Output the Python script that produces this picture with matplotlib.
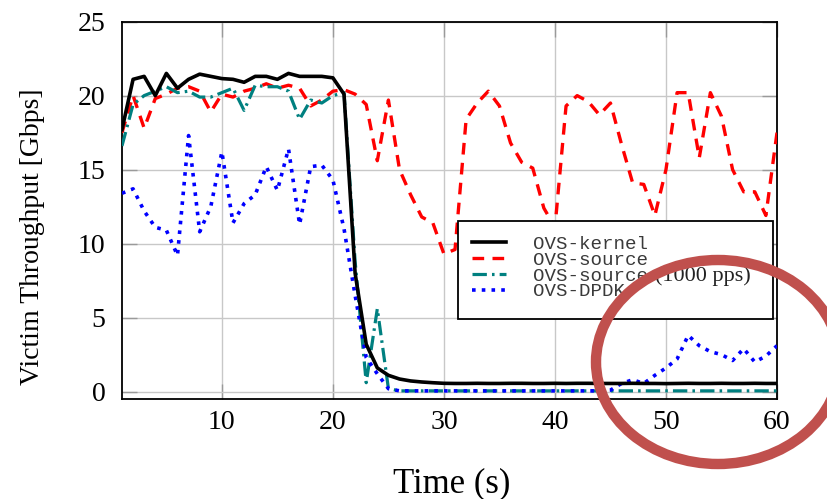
import matplotlib
matplotlib.use("Agg")
import matplotlib.pyplot as plt
from matplotlib.patches import Ellipse, Rectangle

# --- données ---
temps = list(range(1, 61))

kernel = [17.7, 21.1, 21.3, 20.0, 21.5, 20.5, 21.1, 21.45, 21.3, 21.15,
          21.1, 20.9, 21.3, 21.3, 21.1, 21.5, 21.3, 21.3, 21.3, 21.2,
          20.1, 8.0, 3.2, 1.6, 1.1, 0.85, 0.72, 0.65, 0.6, 0.56,
          0.55, 0.55, 0.56, 0.55, 0.55, 0.56, 0.56, 0.55, 0.55, 0.56,
          0.55, 0.56, 0.56, 0.55, 0.55, 0.55, 0.56, 0.55, 0.55, 0.54,
          0.55, 0.56, 0.55, 0.55, 0.56, 0.55, 0.55, 0.56, 0.55, 0.55]

source = [17.5, 20.0, 17.8, 19.8, 20.1, 20.5, 20.6, 20.3, 18.9, 20.1,
          19.9, 20.3, 20.5, 20.8, 20.5, 20.7, 20.5, 19.3, 19.7, 20.3,
          20.4, 20.1, 19.4, 15.6, 19.7, 15.0, 13.3, 11.8, 11.4, 9.3,
          9.6, 18.4, 19.5, 20.3, 19.3, 16.8, 15.5, 15.1, 12.4, 11.1,
          19.3, 20.0, 19.6, 18.7, 19.5, 16.7, 14.1, 14.0, 11.9, 15.0,
          20.2, 20.2, 15.8, 20.2, 18.6, 15.0, 13.5, 13.5, 11.9, 17.5]

source_1000 = [16.6, 19.4, 20.0, 20.3, 20.6, 20.2, 20.3, 19.9, 19.9, 20.2,
               20.5, 19.0, 20.7, 20.6, 20.6, 20.3, 18.4, 19.7, 19.5, 20.0,
               20.2, 8.8, 0.6, 5.6, 0.2, 0.05, 0.05, 0.05, 0.05, 0.05,
               0.05, 0.05, 0.05, 0.05, 0.05, 0.05, 0.05, 0.05, 0.05, 0.05,
               0.05, 0.05, 0.05, 0.05, 0.05, 0.05, 0.05, 0.05, 0.05, 0.05,
               0.05, 0.05, 0.05, 0.05, 0.05, 0.05, 0.05, 0.05, 0.05, 0.05]

dpdk = [13.4, 13.7, 12.2, 11.1, 10.9, 9.2, 17.3, 10.8, 12.5, 16.2,
        11.4, 12.7, 13.3, 15.2, 13.6, 16.4, 11.3, 15.2, 15.3, 14.3,
        11.0, 6.5, 2.3, 1.2, 0.2, 0.05, 0.05, 0.05, 0.05, 0.05,
        0.05, 0.05, 0.05, 0.05, 0.05, 0.05, 0.05, 0.05, 0.05, 0.05,
        0.05, 0.05, 0.05, 0.05, 0.1, 0.55, 0.8, 0.55, 1.1, 1.6,
        2.2, 3.8, 3.1, 2.7, 2.5, 2.1, 2.9, 2.0, 2.4, 3.1]

xticks = [10, 20, 30, 40, 50, 60]
yticks = [0, 5, 10, 15, 20, 25]

plt.rcParams["font.family"] = "Liberation Serif"

fig = plt.figure(figsize=(8.28, 4.99), dpi=100)
ax = fig.add_axes([0.1473, 0.2004, 0.7911, 0.7563])

l_src, = ax.plot(temps, source, color="red", lw=2.4, ls=(0, (3.5, 2.5)), zorder=3)
l_src2, = ax.plot(temps, source_1000, color="teal", lw=2.3,
                  ls=(0, (4.5, 1.6, 0.8, 1.6)), zorder=3)
l_dpdk, = ax.plot(temps, dpdk, color="blue", lw=2.6, ls=(0, (1, 1.7)), zorder=4)
l_ker, = ax.plot(temps, kernel, color="black", lw=2.6, zorder=5)

ax.set_xlim(1, 60)
ax.set_ylim(-0.5, 25)
ax.set_xticks(xticks)
ax.set_yticks(yticks)
ax.grid(True, color="#c8c8c8", lw=1.0)
ax.set_axisbelow(True)
ax.tick_params(direction="in", length=11, width=1, color="#9a9a9a",
               labelsize=20, top=True, right=True)
ax.tick_params(axis="y", pad=12)
ax.tick_params(axis="x", pad=8)
for s in ax.spines.values():
    s.set_linewidth(1.3)
    s.set_color("black")

ax.set_xlabel("Time (s)", fontsize=25)
ax.xaxis.set_label_coords(0.503, -0.18)
ax.set_ylabel("Victim Throughput [Gbps]", fontsize=20)
ax.yaxis.set_label_coords(-0.118, 0.431)

# cadre de la légende dessiné à la main (plus large que le texte)
ax.add_patch(Rectangle((458 / 828, 1 - 319 / 499), 315 / 828, 98 / 499,
                       transform=fig.transFigure, facecolor="white",
                       edgecolor="black", lw=1.3, clip_on=False, zorder=9))

leg = ax.legend([l_ker, l_src, l_src2, l_dpdk],
                ["OVS-kernel", "OVS-source", "OVS-source", "OVS-DPDK"],
                loc="upper left", bbox_to_anchor=(458 / 828, 1 - 221 / 499),
                bbox_transform=fig.transFigure, borderaxespad=0,
                prop={"family": "Liberation Mono", "size": 13.8},
                labelcolor="#3a3a3a", handlelength=1.75, handletextpad=1.4,
                labelspacing=-0.08, borderpad=0.75, frameon=False)
leg.set_zorder(10)

fig.canvas.draw()
rend = fig.canvas.get_renderer()
txts = leg.get_texts()
b0 = txts[0].get_window_extent(rend)
b2 = txts[2].get_window_extent(rend)
cw = b0.width / 10
fig.text((b2.x0 + 10.6 * cw) / fig.bbox.width, (b2.y0 + b2.y1) / 2 / fig.bbox.height,
         "(1000 pps)", fontsize=16, color="#222222", va="center", ha="left", zorder=15)

# cercle rouge d'annotation
fig.add_artist(Ellipse((718 / 828, 1 - 362 / 499), 244 / 828, 204 / 499,
                       transform=fig.transFigure, fill=False,
                       edgecolor="#c0504d", lw=7.5, zorder=20))

fig.savefig("out.png", dpi=100)
